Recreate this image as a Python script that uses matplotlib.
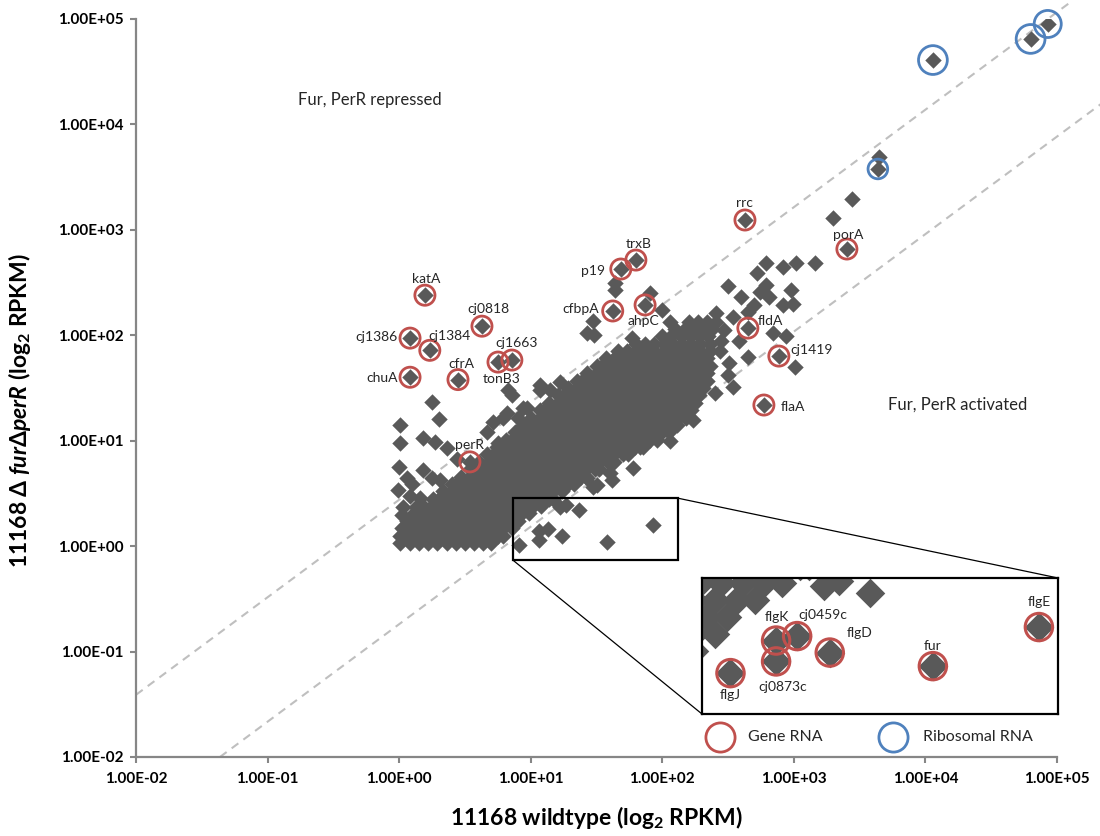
import numpy as np
import matplotlib
matplotlib.use("Agg")
import matplotlib.pyplot as plt
from matplotlib.lines import Line2D
from matplotlib.patches import Rectangle, ConnectionPatch

plt.rcParams['font.family'] = ['Lato', 'DejaVu Sans']
plt.rcParams['mathtext.fontset'] = 'custom'
plt.rcParams['mathtext.rm'] = 'Lato:bold'
plt.rcParams['mathtext.it'] = 'Lato:italic:bold'
plt.rcParams['mathtext.bf'] = 'Lato:bold'

# ---------------- data ----------------
# labelled genes (RPKM): wildtype, fur/perR double mutant
gene_names = ["katA", "cj1386", "cj1384", "cj0818", "chuA", "cfrA", "tonB3",
              "cj1663", "perR", "p19", "trxB", "cfbpA", "ahpC", "rrc", "porA",
              "fldA", "cj1419", "flaA"]
gene_wt = [1.57, 1.21, 1.71, 4.26, 1.21, 2.80, 5.64, 7.19, 3.45, 48.4, 63.0,
           42.0, 74.0, 425.0, 2530.0, 447.0, 769.0, 592.0]
gene_mut = [240.0, 94.0, 72.0, 122.0, 40.0, 38.0, 55.7, 58.2, 6.3, 425.0, 517.0,
            170.0, 194.0, 1240.0, 658.0, 117.0, 63.5, 21.8]

# genes highlighted in the magnified panel
flag_names = ["flgJ", "flgK", "cj0873c", "cj0459c", "flgD", "fur", "flgE"]
flag_wt = [8.13, 11.5, 11.5, 13.5, 17.3, 37.9, 84.9]
flag_mut = [1.02, 1.39, 1.14, 1.45, 1.24, 1.09, 1.58]

# ribosomal RNA
ribo_wt = [11400.0, 63000.0, 85000.0, 4350.0]
ribo_mut = [40800.0, 64700.0, 89700.0, 3780.0]

# bulk of the genome, log10 RPKM, listed row by row (mutant value per row)
core_rows_mut_log = [0.03, 0.10, 0.17, 0.24, 0.31, 0.38, 0.45, 0.52, 0.59, 0.66,
                     0.73, 0.80, 0.87, 0.94, 1.01, 1.08, 1.15, 1.22, 1.29, 1.36,
                     1.43, 1.50, 1.57, 1.64, 1.71, 1.78, 1.85, 1.92, 1.99, 2.06,
                     2.13]
core_rows_wt_log = [
    [0.01, 0.08, 0.15, 0.22, 0.29, 0.36, 0.43, 0.50, 0.57, 0.64, 0.70],
    [0.01, 0.05, 0.12, 0.19, 0.26, 0.33, 0.40, 0.47, 0.54, 0.61, 0.68, 0.75, 0.79],
    [0.02, 0.09, 0.16, 0.23, 0.30, 0.37, 0.44, 0.51, 0.58, 0.65, 0.72, 0.79, 0.86],
    [0.06, 0.13, 0.20, 0.27, 0.34, 0.41, 0.48, 0.55, 0.62, 0.69, 0.76, 0.83, 0.90],
    [0.11, 0.16, 0.23, 0.30, 0.37, 0.44, 0.51, 0.58, 0.65, 0.72, 0.79, 0.86, 0.93, 0.99],
    [0.18, 0.25, 0.32, 0.39, 0.46, 0.53, 0.60, 0.67, 0.74, 0.81, 0.88, 0.95, 1.02, 1.08],
    [0.26, 0.30, 0.37, 0.44, 0.51, 0.58, 0.65, 0.72, 0.79, 0.86, 0.93, 1.00, 1.07, 1.14, 1.17],
    [0.33, 0.40, 0.47, 0.54, 0.61, 0.68, 0.75, 0.82, 0.89, 0.96, 1.03, 1.10, 1.17, 1.24],
    [0.40, 0.44, 0.51, 0.58, 0.65, 0.72, 0.79, 0.86, 0.93, 1.00, 1.07, 1.14, 1.21, 1.28, 1.33],
    [0.47, 0.54, 0.61, 0.68, 0.75, 0.82, 0.89, 0.96, 1.03, 1.10, 1.17, 1.24, 1.31, 1.38, 1.42],
    [0.54, 0.58, 0.65, 0.72, 0.79, 0.86, 0.93, 1.00, 1.07, 1.14, 1.21, 1.28, 1.35, 1.42, 1.49, 1.52],
    [0.61, 0.68, 0.75, 0.82, 0.89, 0.96, 1.03, 1.10, 1.17, 1.24, 1.31, 1.38, 1.45, 1.52, 1.59, 1.63],
    [0.67, 0.72, 0.79, 0.86, 0.93, 1.00, 1.07, 1.14, 1.21, 1.28, 1.35, 1.42, 1.49, 1.56, 1.63, 1.70, 1.74],
    [0.74, 0.81, 0.88, 0.95, 1.02, 1.09, 1.16, 1.23, 1.30, 1.37, 1.44, 1.51, 1.58, 1.65, 1.72, 1.79, 1.85],
    [0.81, 0.86, 0.93, 1.00, 1.07, 1.14, 1.21, 1.28, 1.35, 1.42, 1.49, 1.56, 1.63, 1.70, 1.77, 1.84, 1.91, 1.96],
    [0.88, 0.95, 1.02, 1.09, 1.16, 1.23, 1.30, 1.37, 1.44, 1.51, 1.58, 1.65, 1.72, 1.79, 1.86, 1.93, 2.00, 2.05],
    [0.94, 0.99, 1.06, 1.13, 1.20, 1.27, 1.34, 1.41, 1.48, 1.55, 1.62, 1.69, 1.76, 1.83, 1.90, 1.97, 2.04, 2.11],
    [1.00, 1.07, 1.14, 1.21, 1.28, 1.35, 1.42, 1.49, 1.56, 1.63, 1.70, 1.77, 1.84, 1.91, 1.98, 2.05, 2.12, 2.18],
    [1.07, 1.11, 1.18, 1.25, 1.32, 1.39, 1.46, 1.53, 1.60, 1.67, 1.74, 1.81, 1.88, 1.95, 2.02, 2.09, 2.16, 2.22],
    [1.14, 1.21, 1.28, 1.35, 1.42, 1.49, 1.56, 1.63, 1.70, 1.77, 1.84, 1.91, 1.98, 2.05, 2.12, 2.19, 2.25],
    [1.21, 1.25, 1.32, 1.39, 1.46, 1.53, 1.60, 1.67, 1.74, 1.81, 1.88, 1.95, 2.02, 2.09, 2.16, 2.23, 2.28],
    [1.28, 1.35, 1.42, 1.49, 1.56, 1.63, 1.70, 1.77, 1.84, 1.91, 1.98, 2.05, 2.12, 2.19, 2.26, 2.31],
    [1.35, 1.39, 1.46, 1.53, 1.60, 1.67, 1.74, 1.81, 1.88, 1.95, 2.02, 2.09, 2.16, 2.23, 2.30, 2.34],
    [1.43, 1.50, 1.57, 1.64, 1.71, 1.78, 1.85, 1.92, 1.99, 2.06, 2.13, 2.20, 2.27, 2.34],
    [1.50, 1.54, 1.61, 1.68, 1.75, 1.82, 1.89, 1.96, 2.03, 2.10, 2.17, 2.24, 2.31, 2.36],
    [1.57, 1.64, 1.71, 1.78, 1.85, 1.92, 1.99, 2.06, 2.13, 2.20, 2.27, 2.34],
    [1.66, 1.73, 1.80, 1.87, 1.94, 2.01, 2.08, 2.15, 2.22, 2.29, 2.36],
    [1.80, 1.87, 1.94, 2.01, 2.08, 2.15, 2.22, 2.29, 2.36],
    [2.00, 2.07, 2.14, 2.21, 2.28, 2.35],
    [2.10, 2.17, 2.24, 2.31, 2.38],
    [2.20, 2.27, 2.34, 2.41],
]

# scattered genes outside the bulk, log10 RPKM
sparse_wt_log = [0.25, 0.30, 0.01, 0.01, 0.18, 0.27, 0.36, 0.00, 0.06, 0.10,
                 0.18, 0.25, 0.31, -0.01, 0.08, 0.16, 0.03, 0.13, 0.02, 0.44,
                 0.67, 0.71, 0.75, 0.82, 0.86, 0.83, 0.94, 1.07, 1.12, 0.79,
                 0.90, 0.97, 1.07, 1.15, 1.22,
                 1.47, 1.43, 1.48, 1.64, 1.64, 1.91, 2.00, 2.06, 1.77, 1.66,
                 2.50, 2.60, 2.72, 2.79, 2.79, 2.92, 3.02, 3.16, 2.98, 2.99,
                 2.92, 2.81, 2.74, 2.70, 2.65, 2.84, 2.94, 3.01, 2.54, 2.51,
                 2.65, 2.54, 2.41, 2.47, 2.45, 2.58, 2.44, 2.50, 2.40,
                 1.37, 1.22, 1.27, 1.78, 1.50, 1.43, 1.60, 2.06, 2.23, 1.93,
                 1.83, 1.62, 1.47,
                 3.44, 3.30, 3.646]
sparse_mut_log = [1.37, 1.21, 1.15, 0.98, 1.03, 0.99, 0.93, 0.75, 0.65, 0.59,
                  0.72, 0.65, 0.63, 0.53, 0.48, 0.46, 0.37, 0.37, 0.30, 0.83,
                  1.08, 1.18, 0.98, 1.26, 1.43, 1.48, 1.31, 1.48, 1.27, 1.22,
                  1.22, 1.31, 1.53, 1.48, 1.56,
                  2.14, 2.02, 2.00, 2.50, 2.43, 2.40, 2.24, 2.13, 1.97, 1.81,
                  2.47, 2.36, 2.59, 2.69, 2.48, 2.65, 2.69, 2.69, 2.43, 2.30,
                  2.29, 2.36, 2.41, 2.29, 2.22, 2.02, 1.99, 1.70, 1.51, 1.74,
                  1.79, 2.17, 2.21, 2.05, 1.95, 1.95, 1.85, 1.62, 1.45,
                  0.34, 0.37, 0.39, 0.74, 0.58, 0.65, 0.69, 1.00, 1.20, 1.07,
                  0.94, 0.63, 0.56,
                  3.29, 3.11, 3.69]

# guide lines: log10(mut) = offset + slope * (log10(wt) - start)
guide_slope = 0.925
upper_guide = (-2.0, -1.41, 5.12)   # start log10 wt, log10 mut at start, end log10 wt
lower_guide = (-1.362, -2.0, 5.34)

# region shown magnified
zoom_box_wt = (7.33, 131.5)
zoom_box_mut = (0.736, 2.85)
panel_wt = (10 ** 0.816, 10 ** 1.992)
panel_mut = (10 ** -0.160, 10 ** 0.401)

# ---------------- assemble points ----------------
core_x, core_y = [], []
for yv, row in zip(core_rows_mut_log, core_rows_wt_log):
    core_x.extend(row)
    core_y.extend([yv] * len(row))
all_x = np.concatenate([10 ** np.array(core_x), 10 ** np.array(sparse_wt_log),
                        gene_wt, flag_wt, ribo_wt])
all_y = np.concatenate([10 ** np.array(core_y), 10 ** np.array(sparse_mut_log),
                        gene_mut, flag_mut, ribo_mut])

GRAY = '#595959'
RED = '#C0504D'
BLUE = '#4F81BD'
AXIS = '#868686'
TEXT = '#262626'
DOT = 70          # diamond area in the main plot (pt^2)
MAG = 1.8         # marker growth inside the magnified panel

W, H = 1100, 836
fig = plt.figure(figsize=(W / 100, H / 100), dpi=100)
ax = fig.add_axes([136 / W, 1 - 757 / H, 921 / W, 738 / H])
ax.set_xscale('log')
ax.set_yscale('log')
ax.set_xlim(1e-2, 1e5)
ax.set_ylim(1e-2, 1e5)

decades = [10.0 ** k for k in range(-2, 6)]
ax.set_xticks(decades)
ax.set_yticks(decades)
ax.set_xticklabels([f"{v:.2E}" for v in decades])
ax.set_yticklabels([f"{v:.2E}" for v in decades])
ax.minorticks_off()
for lab in ax.get_xticklabels() + ax.get_yticklabels():
    lab.set_fontweight('bold')
    lab.set_fontsize(11)
ax.tick_params(axis='both', direction='out', length=4, width=1.5, color=AXIS)
ax.tick_params(axis='x', pad=7)
ax.tick_params(axis='y', pad=5)
for s in ['top', 'right']:
    ax.spines[s].set_visible(False)
for s in ['left', 'bottom']:
    ax.spines[s].set_color(AXIS)
    ax.spines[s].set_linewidth(1.6)

# guide lines
for start, y0, end in (upper_guide, lower_guide):
    gx = np.array([start, end])
    gy = y0 + guide_slope * (gx - start)
    ax.plot(10 ** gx, 10 ** gy, ls=(0, (4, 3)), color='#BFBFBF', lw=1.5,
            clip_on=False, zorder=1)

# all genes
ax.scatter(all_x, all_y, marker='D', s=DOT, color=GRAY, linewidths=0, zorder=2)

# highlighted genes
ax.scatter(gene_wt, gene_mut, marker='o', s=210, facecolors='none',
           edgecolors=RED, linewidths=2.0, zorder=3)
ribo_ring = [430, 430, 380, 200]
ax.scatter(ribo_wt, ribo_mut, marker='o', s=ribo_ring, facecolors='none',
           edgecolors=BLUE, linewidths=2.0, zorder=3, clip_on=False)

label_offsets = {
    "katA": (1, 16), "cj1386": (-34, 1), "cj1384": (20, 14), "cj0818": (6, 17),
    "chuA": (-28, -1), "cfrA": (3, 16), "tonB3": (4, -17), "cj1663": (5, 17),
    "perR": (0, 17), "p19": (-28, -2), "trxB": (3, 16), "cfbpA": (-32, 2),
    "ahpC": (-2, -16), "rrc": (-1, 17), "porA": (1, 14), "fldA": (23, 7),
    "cj1419": (33, 6), "flaA": (29, -2),
}
for name, xv, yv in zip(gene_names, gene_wt, gene_mut):
    ax.annotate(name, (xv, yv), xytext=label_offsets[name],
                textcoords='offset pixels', ha='center', va='center',
                fontsize=10, color=TEXT, zorder=4)

ax.text(0.176, 0.890, "Fur, PerR repressed", transform=ax.transAxes,
        fontsize=12, color=TEXT, ha='left', va='center')
ax.text(0.8165, 0.477, "Fur, PerR activated", transform=ax.transAxes,
        fontsize=12, color=TEXT, ha='left', va='center')

ax.set_xlabel("11168 wildtype (log$_2$ RPKM)", fontsize=16.5, fontweight='bold',
              labelpad=13)
ax.set_ylabel("11168 Δ $\\mathit{fur}$Δ$\\mathit{perR}$ (log$_2$ RPKM)",
              fontsize=16.5, fontweight='bold')
ax.yaxis.set_label_coords(-0.112, 0.47)

# box marking the magnified region
ax.add_patch(Rectangle((zoom_box_wt[0], zoom_box_mut[0]),
                       zoom_box_wt[1] - zoom_box_wt[0],
                       zoom_box_mut[1] - zoom_box_mut[0],
                       fill=False, edgecolor='black', lw=1.6, zorder=5))

# magnified panel
axin = fig.add_axes([702 / W, 1 - 714 / H, 356 / W, 136 / H])
axin.set_xscale('log')
axin.set_yscale('log')
axin.set_xlim(*panel_wt)
axin.set_ylim(*panel_mut)
axin.set_xticks([])
axin.set_yticks([])
axin.minorticks_off()
for s in axin.spines.values():
    s.set_color('black')
    s.set_linewidth(1.6)
axin.scatter(all_x, all_y, marker='D', s=DOT * MAG ** 2, color=GRAY,
             linewidths=0, zorder=2)
axin.scatter(flag_wt, flag_mut, marker='o', s=390, facecolors='none',
             edgecolors=RED, linewidths=2.2, zorder=3)
flag_offsets = {
    "flgJ": (0, -22), "flgK": (1, 24), "cj0873c": (7, -26), "cj0459c": (26, 21),
    "flgD": (30, 20), "fur": (0, 20), "flgE": (0, 25),
}
for name, xv, yv in zip(flag_names, flag_wt, flag_mut):
    axin.annotate(name, (xv, yv), xytext=flag_offsets[name],
                  textcoords='offset pixels', ha='center', va='center',
                  fontsize=10, color=TEXT, zorder=4)

for xyA, xyB in (((zoom_box_wt[1], zoom_box_mut[1]), (1, 1)),
                 ((zoom_box_wt[0], zoom_box_mut[0]), (0, 0))):
    con = ConnectionPatch(xyA=xyA, coordsA=ax.transData, xyB=xyB,
                          coordsB=axin.transAxes, color='black', lw=0.9)
    fig.add_artist(con)

# legend
leg_y = 1 - 737 / H
fig.add_artist(Line2D([720 / W], [leg_y], marker='o', ms=21, mfc='none',
                      mec=RED, mew=2, ls='', transform=fig.transFigure))
fig.text(748 / W, leg_y, "Gene RNA", fontsize=11.5, color=TEXT,
         ha='left', va='center')
fig.add_artist(Line2D([893 / W], [leg_y], marker='o', ms=21, mfc='none',
                      mec=BLUE, mew=2, ls='', transform=fig.transFigure))
fig.text(923 / W, leg_y, "Ribosomal RNA", fontsize=11.5, color=TEXT,
         ha='left', va='center')

fig.savefig("out.png", dpi=100, facecolor='white')
